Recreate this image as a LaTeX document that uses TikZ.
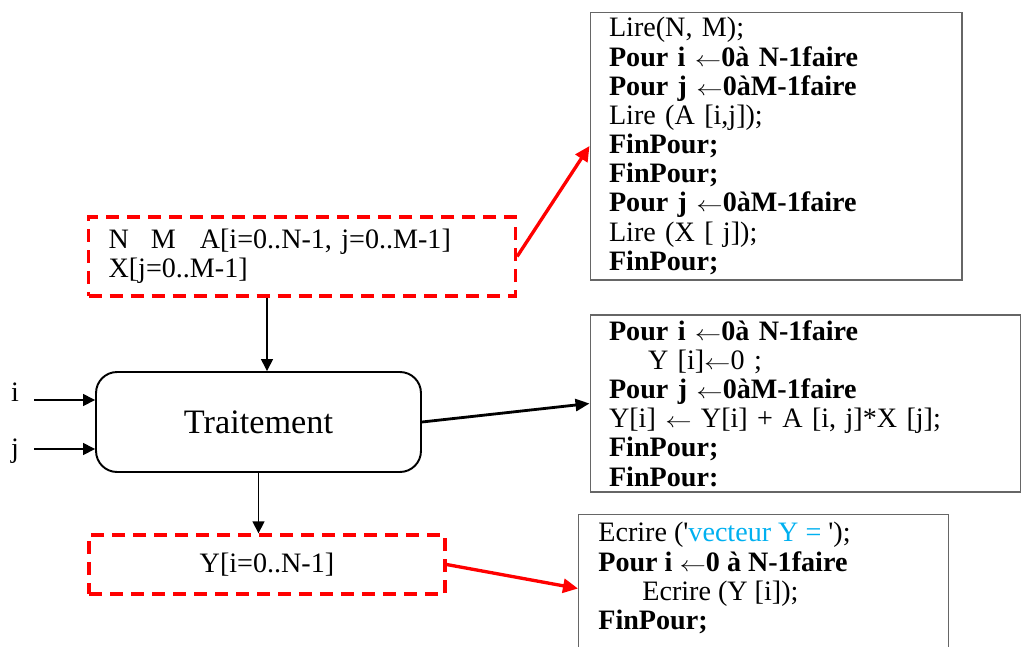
\documentclass[tikz,border=0pt]{standalone}
\usepackage{fontspec}
\usepackage{graphicx}
\setmainfont{Liberation Serif}
\usetikzlibrary{arrows.meta, positioning}
\definecolor{strcyan}{RGB}{0,176,240}
\newcommand{\codesize}{\fontsize{16}{16.6}\selectfont}
\newcommand{\fleche}{\scalebox{1.25}[1]{\fontsize{12.5}{12.5}\selectfont$\leftarrow$}}

\begin{document}
\begin{tikzpicture}[x=0.02cm, y=-0.02cm,
    codebox/.style={rectangle, draw=black!60, line width=0.6pt, align=left, inner xsep=0.38cm, inner ysep=0pt, font=\codesize},
    databox/.style={rectangle, draw=red, line width=1.9pt, dash pattern=on 0.26cm off 0.16cm, align=left, inner xsep=0.4cm, inner ysep=0pt, font=\codesize},
    procbox/.style={rectangle, draw=black, line width=1.1pt, rounded corners=0.42cm, minimum width=6.5cm, minimum height=2cm, font=\fontsize{19.5}{23}\selectfont},
    lbl/.style={font=\codesize, inner sep=0pt},
    arr/.style={-{Triangle[length=0.24cm, width=0.24cm]}, line width=0.8pt},
    thickarr/.style={-{Triangle[length=0.28cm, width=0.24cm]}, line width=1.6pt},
    redarr/.style={-{Triangle[length=0.3cm, width=0.28cm]}, red, line width=1.9pt}]

    \useasboundingbox (0,0) rectangle (1024,646);

    \node (donnees) [databox, minimum width=8.54cm, minimum height=1.58cm, text width=7.74cm] at (302,256.5)
        {N\hspace{0.44cm}M\hspace{0.48cm}A[i=0..N-1, j=0..M-1]\\X[j=0..M-1]};
    \node (trait) [procbox] at (258.5,422) {Traitement};
    \node (resultat) [databox, minimum width=7.12cm, minimum height=1.18cm, align=center] at (267,564.5) {Y[i=0..N-1]};

    \node (ientree) [lbl, anchor=base] at (15,401) {i};
    \node (jentree) [lbl, anchor=base] at (15,457) {j};
    \coordinate (idebut) at (34,400);
    \coordinate (jdebut) at (34,449);

    \node (lecture) [codebox, minimum width=7.44cm, minimum height=5.36cm, text width=6.68cm] at (776,146)
        {Lire(N, M);\\
         \textbf{Pour i \fleche0à N-1faire}\\
         \textbf{Pour j \fleche0àM-1faire}\\
         Lire (A [i,j]);\\
         \textbf{FinPour;}\\
         \textbf{FinPour;}\\
         \textbf{Pour j \fleche0àM-1faire}\\
         Lire (X [ j]);\\
         \textbf{FinPour;}};
    \node (calcul) [codebox, minimum width=8.62cm, minimum height=3.54cm, text width=7.86cm] at (805.5,403.5)
        {\textbf{Pour i \fleche0à N-1faire}\\
         \hspace*{0.78cm}Y [i]\fleche0 ;\\
         \textbf{Pour j \fleche0àM-1faire}\\
         Y[i] \fleche{} Y[i] + A [i, j]*X [j];\\
         \textbf{FinPour;}\\
         \textbf{FinPour:}};
    \node (affichage) [codebox, minimum width=7.4cm, minimum height=2.96cm, anchor=north west] at (578,514) {};
    \node (afftexte) [lbl, align=left, anchor=north west] at (598,522)
        {Ecrire (\textquotesingle{\color{strcyan}vecteur Y = }\textquotesingle);\\
         \textbf{Pour i \fleche0 à N-1faire}\\
         \hspace*{0.88cm}Ecrire (Y [i]);\\
         \textbf{FinPour;}};

    \draw[arr] ([xshift=-0.7cm]donnees.south) -- ([xshift=-0.7cm]donnees.south |- trait.north);
    \draw[arr] (trait.south) -- (trait.south |- resultat.north);
    \draw[arr] (idebut) -- (idebut -| trait.west);
    \draw[arr] (jdebut) -- (jdebut -| trait.west);
    %% sorties vers les blocs d'algorithme
    \draw[redarr] (donnees.east) -- (lecture.west);
    \draw[thickarr] (trait.east) -- (calcul.west);
    \draw[redarr] (resultat.east) -- (affichage.west);

\end{tikzpicture}
\end{document}
